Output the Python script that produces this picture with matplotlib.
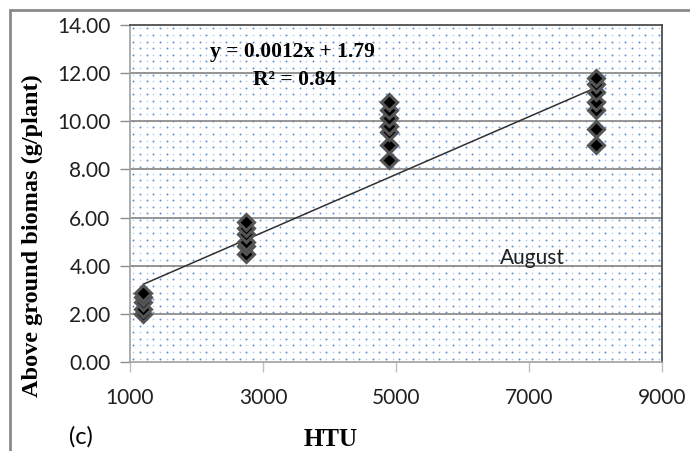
import matplotlib
matplotlib.use('Agg')
import matplotlib.pyplot as plt
from matplotlib.patches import Rectangle
import numpy as np

# HTU sampling points and above ground biomass (g/plant), August
htu_1 = [1200] * 5
bio_1 = [2.0, 2.2, 2.5, 2.7, 2.85]
htu_2 = [2750] * 6
bio_2 = [4.5, 4.8, 5.0, 5.3, 5.55, 5.8]
htu_3 = [4900] * 7
bio_3 = [8.4, 9.0, 9.55, 9.8, 10.15, 10.45, 10.8]
htu_4 = [8000] * 7
bio_4 = [9.0, 9.7, 10.45, 10.8, 11.2, 11.55, 11.8]

# linear trend reported on the chart
slope = 0.0012
intercept = 1.79
r2 = 0.84

x = np.array(htu_1 + htu_2 + htu_3 + htu_4)
y = np.array(bio_1 + bio_2 + bio_3 + bio_4)

W, H = 690, 451
fig = plt.figure(figsize=(W / 100, H / 100), dpi=100)
ax = fig.add_axes([130 / W, 1 - 362 / H, (662 - 130) / W, (362 - 25) / H])

# dotted fill of the plot area (checkerboard of stronger / fainter dots)
step = 6.6
nx = int(532 / step)
ny = int(337 / step)
gx, gy = np.meshgrid(np.arange(nx) + 0.5, np.arange(ny) + 0.5)
strong = ((gx.astype(int) + gy.astype(int)) % 2) == 0
fx = gx / nx
fy = gy / ny
ax.scatter(fx[strong], fy[strong], s=2.0, color='#5a8fd2', linewidths=0,
           transform=ax.transAxes, zorder=0)
ax.scatter(fx[~strong], fy[~strong], s=1.2, color='#b0c8e9', linewidths=0,
           transform=ax.transAxes, zorder=0)

for yy in np.arange(2, 14, 2):
    ax.axhline(yy, color='#8c8c8c', lw=1.3, zorder=1)

xl = np.array([x.min(), x.max()])
ax.plot(xl, slope * xl + intercept, color='#303030', lw=1.1, zorder=2)
ax.plot(x, y, linestyle='none', marker='D', markersize=8.5, markerfacecolor='black',
        markeredgecolor='#555555', markeredgewidth=2.2, zorder=3)

ax.set_xlim(1000, 9000)
ax.set_ylim(0, 14)
ax.set_xticks([1000, 3000, 5000, 7000, 9000])
ax.set_yticks(np.arange(0, 15, 2))
ax.set_yticklabels(['%.2f' % v for v in np.arange(0, 15, 2)])

for lab in ax.get_xticklabels() + ax.get_yticklabels():
    lab.set_fontfamily('Lato')
    lab.set_fontsize(15)
    lab.set_color('#202020')
ax.tick_params(axis='y', length=7, width=1, color='#8c8c8c', pad=7)
ax.tick_params(axis='x', length=7, width=1, color='#bfbfbf', pad=12)

ax.spines['left'].set_color('#a0a0a0')
ax.spines['bottom'].set_color('#a0a0a0')
ax.spines['top'].set_color('#404040')
ax.spines['right'].set_color('#404040')
for s in ax.spines.values():
    s.set_linewidth(1.2)

ax.text(0.306, 0.92, 'y = 0.0012x + 1.79', transform=ax.transAxes, ha='center',
        va='center', family='Liberation Serif', weight='bold', size=15.5)
ax.text(0.31, 0.837, 'R\u00b2 = %.2f' % r2, transform=ax.transAxes, ha='center',
        va='center', family='Liberation Serif', weight='bold', size=15.5)
ax.text(6560, 4.32, 'August', family='Lato', size=15, color='#202020', va='center')

fig.text(81 / W, 1 - 437 / H, '(c)', family='Lato', size=17, ha='center', va='center')
fig.text(331 / W, 1 - 440 / H, 'HTU', family='Liberation Serif', weight='bold',
         size=18, ha='center', va='center')
fig.text(32 / W, 1 - 236 / H, 'Above ground biomas (g/plant)', family='Liberation Serif',
         weight='bold', size=17.5, rotation=90, ha='center', va='center')

# outer chart frame
fig.patches.append(Rectangle((10 / W, -0.1), 1.2, 1 - 10 / H + 0.1, transform=fig.transFigure,
                             fill=False, edgecolor='#8a8a8a', linewidth=2))

fig.savefig('out.png', dpi=100)
